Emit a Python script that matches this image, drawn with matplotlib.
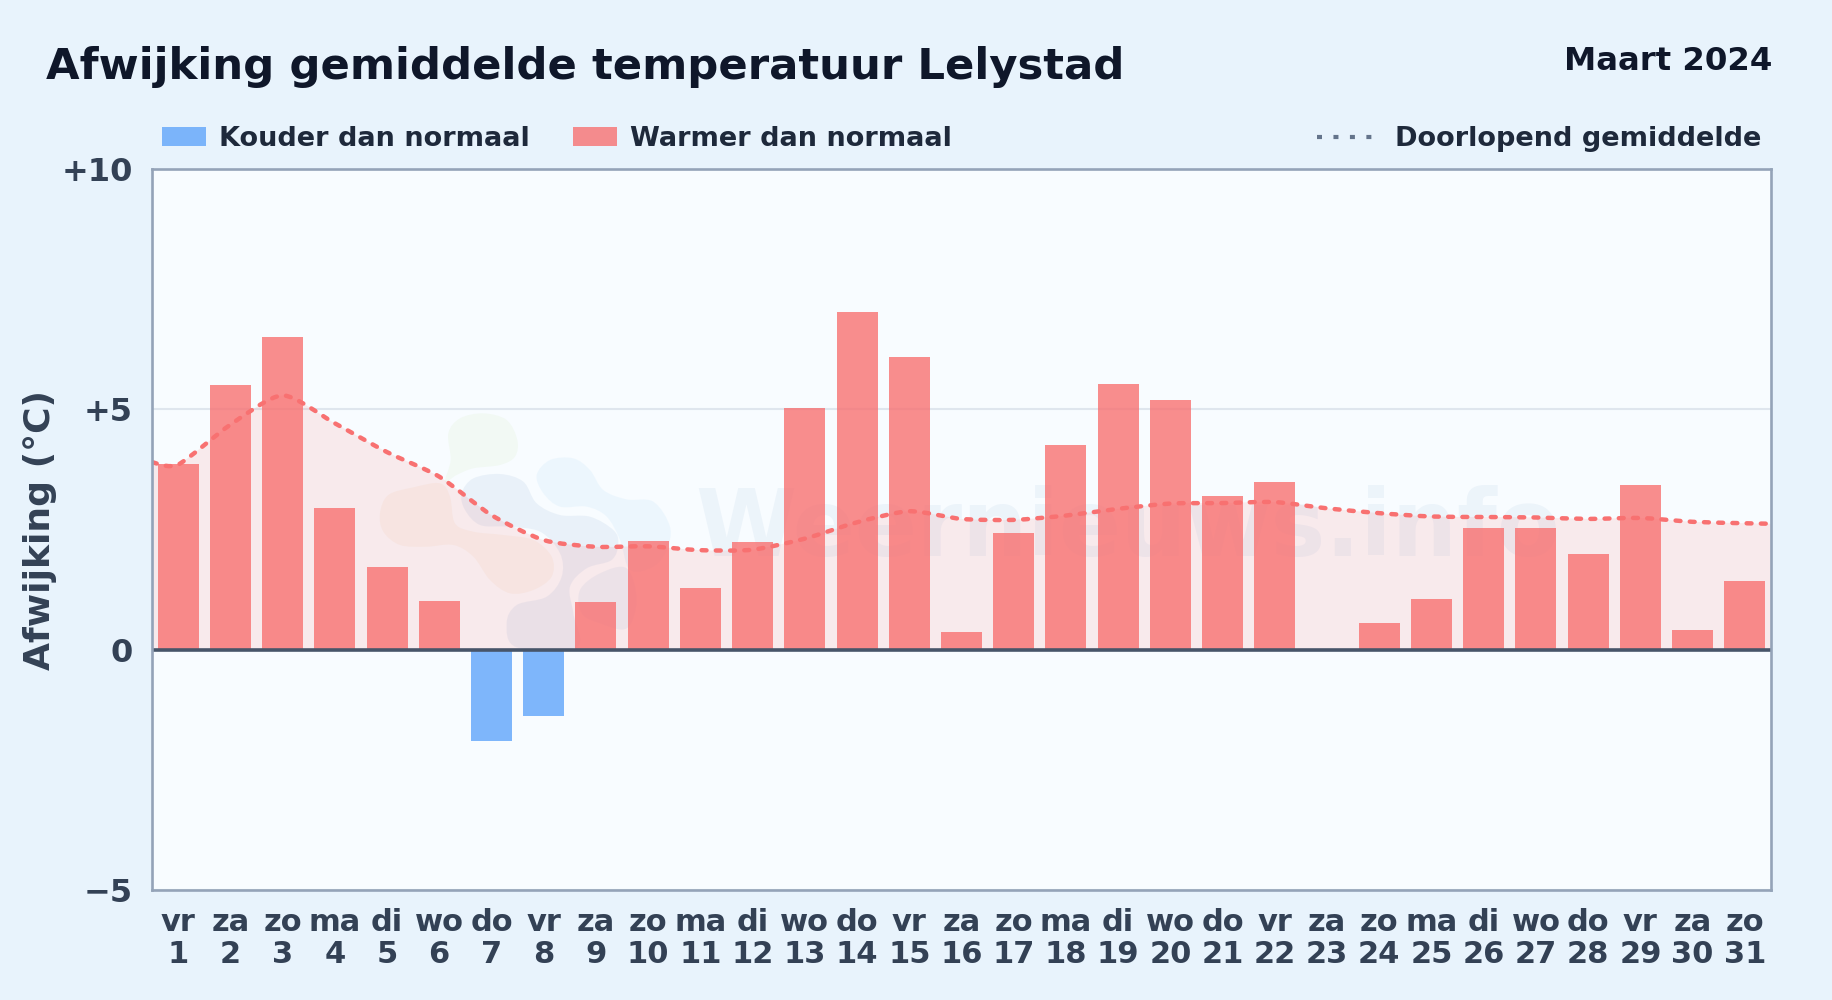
import numpy as np
import matplotlib
matplotlib.use("Agg")
import matplotlib.pyplot as plt
from matplotlib.path import Path
from matplotlib.patches import PathPatch, Rectangle
from matplotlib.lines import Line2D

W, H = 1832, 1000

days = list(range(1, 32))
weekdays = ["vr", "za", "zo", "ma", "di", "wo", "do", "vr", "za", "zo", "ma", "di", "wo", "do", "vr", "za",
            "zo", "ma", "di", "wo", "do", "vr", "za", "zo", "ma", "di", "wo", "do", "vr", "za", "zo"]
afwijking = [3.87, 5.50, 6.50, 2.95, 1.73, 1.02, -1.90, -1.39, 1.00, 2.26, 1.29, 2.24, 5.03, 7.03, 6.08, 0.36,
             2.43, 4.25, 5.52, 5.20, 3.20, 3.48, 0.0, 0.56, 1.05, 2.53, 2.53, 2.00, 3.43, 0.41, 1.43]
gemiddelde = [3.85, 4.68, 5.29, 4.71, 4.11, 3.60, 2.80, 2.28, 2.14, 2.15, 2.07, 2.08, 2.31, 2.65, 2.88, 2.72,
              2.70, 2.79, 2.93, 3.04, 3.05, 3.07, 2.94, 2.84, 2.77, 2.76, 2.75, 2.72, 2.74, 2.66, 2.63]
gem_rand = [3.90, 2.62]  # lijn loopt door tot de rand van de plot
y_ticks = [-5, 0, 5, 10]
y_labels = ["\u22125", "0", "+5", "+10"]


def smooth(xs, ys, t=0.12):
    # bezier door de punten, zoals een lijn met tension
    pts = np.column_stack([xs, ys])
    verts = [pts[0]]
    for i in range(len(pts) - 1):
        p0 = pts[max(i - 1, 0)]
        p3 = pts[min(i + 2, len(pts) - 1)]
        verts.append(pts[i] + (pts[i + 1] - p0) * t)
        verts.append(pts[i + 1] - (p3 - pts[i]) * t)
        verts.append(pts[i + 1])
    return np.array(verts)


def blob(points, color, alpha):
    # logo vlekken in pixels van het hele plaatje
    p = np.array(points, float)
    n = len(p)
    verts = [p[0]]
    for i in range(n):
        a, b, c, d = p[i - 1], p[i], p[(i + 1) % n], p[(i + 2) % n]
        verts += [b + (c - a) / 6, c - (d - b) / 6, c]
    codes = [Path.MOVETO] + [Path.CURVE4] * (3 * n)
    verts = np.array(verts)
    verts = np.column_stack([(360 + verts[:, 0] / 3) / W, 1 - (400 + verts[:, 1] / 3) / H])
    return PathPatch(Path(verts, codes), transform=fig.transFigure, fc=color, ec="none", alpha=alpha, zorder=1)


fig = plt.figure(figsize=(W / 100, H / 100), dpi=100, facecolor="#e8f3fc")
ax = fig.add_axes([152 / W, 1 - 890 / H, 1619 / W, 721 / H], facecolor="#f8fcff")

green = [(265, 100), (300, 55), (370, 40), (440, 60), (472, 120), (465, 170), (420, 195), (340, 205), (290, 225),
         (255, 245), (272, 180)]
orange = [(60, 340), (85, 285), (160, 262), (240, 250), (270, 290), (285, 370), (340, 395), (430, 405), (520, 420),
          (575, 470), (575, 530), (520, 570), (450, 580), (390, 540), (340, 470), (280, 435), (200, 440), (120, 435),
          (70, 395)]
grey = [(305, 280), (340, 235), (420, 222), (490, 245), (530, 310), (600, 345), (690, 350), (760, 390), (775, 430),
        (755, 480), (680, 505), (630, 560), (640, 640), (650, 742), (470, 742), (440, 670), (470, 615), (560, 590),
        (605, 530), (600, 460), (540, 395), (440, 380), (360, 375), (315, 330)]
sky = [(530, 225), (570, 180), (640, 175), (690, 210), (730, 270), (800, 298), (880, 305), (930, 380), (920, 450),
       (880, 500), (810, 510), (780, 420), (740, 350), (680, 320), (600, 320), (550, 280)]
low = [(660, 570), (720, 520), (800, 505), (830, 600), (800, 685), (720, 670), (665, 640)]
for pts, col, al in [(green, "#b7e08a", 0.09), (orange, "#f5c98a", 0.11), (grey, "#93b4d6", 0.14),
                     (sky, "#93cdf5", 0.11), (low, "#93b4d6", 0.12)]:
    ax.add_patch(blob(pts, col, al))

ax.text(1128 / W, 1 - 530 / H, "Weernieuws.info", transform=fig.transFigure, ha="center", va="center",
        fontsize=66, fontweight="bold", color="#8fb4d8", alpha=0.11, zorder=1.5)

ax.set_xlim(0.5, 31.5)
ax.set_ylim(-5, 10)

# doorlopend gemiddelde met vlak tot de nullijn
x_lijn = [0.5] + days + [31.5]
y_lijn = [gem_rand[0]] + gemiddelde + [gem_rand[1]]
lijn = smooth(x_lijn, y_lijn)
codes = [Path.MOVETO] + [Path.CURVE4] * (len(lijn) - 1)
vlak = np.vstack([lijn, [[31.5, 0], [0.5, 0], [0.5, y_lijn[0]]]])
ax.add_patch(PathPatch(Path(vlak, codes + [Path.LINETO] * 3), fc="#f87171", ec="none", alpha=0.13, zorder=2))

ax.yaxis.grid(True, color="#dfe6ee", lw=1.5, zorder=1.2)
ax.set_axisbelow(True)

kleuren = ["#60a5fa" if v < 0 else "#f87171" for v in afwijking]
ax.bar(days, afwijking, width=0.785, color=kleuren, alpha=0.8, zorder=3)
ax.add_patch(PathPatch(Path(lijn, codes), fc="none", ec="#f87171", lw=3.2, ls=(0, (1.1, 2.1)), capstyle="round",
                       zorder=4))
ax.axhline(0, color="#475569", lw=2.6, zorder=5)

for s in ax.spines.values():
    s.set_color("#94a3b8")
    s.set_linewidth(1.9)
    s.set_zorder(6)

ax.set_xticks(days)
ax.set_xticklabels([f"{d}\n{n}" for d, n in zip(weekdays, days)], fontsize=22, fontweight="bold", color="#334155",
                   linespacing=1.13)
ax.set_yticks(y_ticks)
ax.set_yticklabels(y_labels, fontsize=23, fontweight="bold", color="#334155")
ax.tick_params(axis="both", length=0)
ax.tick_params(axis="x", pad=13)
ax.tick_params(axis="y", pad=14)

fig.text(40 / W, 1 - 530 / H, "Afwijking (\u00b0C)", rotation=90, ha="center", va="center", fontsize=26,
         fontweight="bold", color="#334155")
fig.text(46 / W, 1 - 79 / H, "Afwijking gemiddelde temperatuur Lelystad", ha="left", va="baseline", fontsize=31.2,
         fontweight="bold", color="#0f172a")
fig.text(1772 / W, 1 - 70 / H, "Maart 2024", ha="right", va="baseline", fontsize=23.3, fontweight="bold",
         color="#0f172a")

# legenda staat los boven de plot
for x0, col, naam, tx in [(162, "#60a5fa", "Kouder dan normaal", 219), (573, "#f87171", "Warmer dan normaal", 630)]:
    fig.add_artist(Rectangle((x0 / W, 1 - 146 / H), 44 / W, 19 / H, transform=fig.transFigure, fc=col, ec="none",
                             alpha=0.8))
    fig.text(tx / W, 1 - 136 / H, naam, ha="left", va="center_baseline", fontsize=19.5, fontweight="bold",
             color="#1e293b")
fig.add_artist(Line2D([1317 / W, 1373 / W], [1 - 137 / H] * 2, transform=fig.transFigure, color="#64748b", lw=3,
                      ls=(0, (1.2, 2.75))))
fig.text(1395 / W, 1 - 136 / H, "Doorlopend gemiddelde", ha="left", va="center_baseline", fontsize=19.5,
         fontweight="bold", color="#1e293b")

fig.savefig("out.png", dpi=100, facecolor=fig.get_facecolor())
